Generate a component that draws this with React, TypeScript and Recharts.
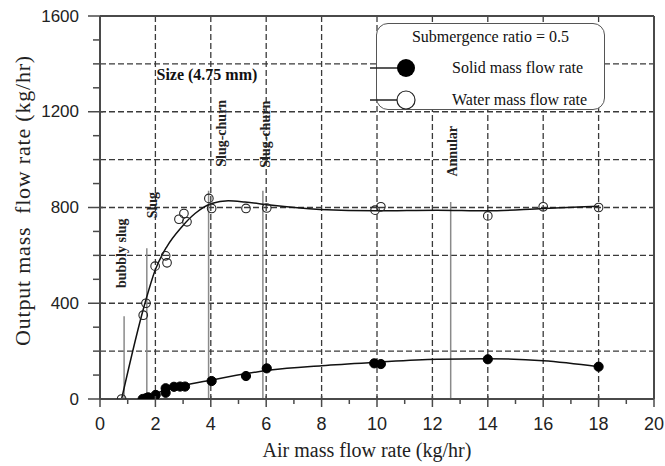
import React from 'react';
import {
  ComposedChart,
  Line,
  Scatter,
  XAxis,
  YAxis,
  CartesianGrid,
  ReferenceLine,
  ReferenceDot,
  Legend,
} from 'recharts';

// ---- data ----
const waterX = [0.78, 1.56, 1.66, 1.99, 2.37, 2.42, 2.85, 3.03, 3.14, 3.93, 4.03, 5.27, 6.02, 9.93, 10.14, 14.0, 16.0, 18.0];
const waterY = [0, 350, 400, 555, 598, 569, 751, 775, 740, 838, 796, 796, 798, 789, 803, 765, 803, 800];

const solidX = [1.54, 1.65, 1.74, 2.01, 2.37, 2.37, 2.67, 2.89, 3.07, 4.03, 5.27, 6.02, 9.9, 10.14, 14.0, 18.0];
const solidY = [0, 3, 7, 17, 26, 45, 51, 52, 52, 75, 96, 128, 149, 146, 166, 135];

const waterFitX = [0.78, 1.62, 1.99, 2.41, 2.95, 3.43, 4.03, 4.63, 5.23, 6.14, 7.94, 9.99, 12.16, 13.96, 16.0, 18.0];
const waterFitY = [0, 399, 538, 636, 719, 775, 817, 828, 823, 810, 792, 786, 789, 786, 796, 805];

const solidFitX = [1.5, 2.37, 4.03, 6.14, 8.0, 9.8, 12.16, 13.96, 16.0, 18.0];
const solidFitY = [0, 38, 79, 121, 139, 152, 166, 168, 160, 135];

const xTicks = [0, 1, 2, 3, 4, 5, 6, 7, 8, 9, 10, 11, 12, 13, 14, 15, 16, 17, 18, 19, 20];
const yTicks = [0, 100, 200, 300, 400, 500, 600, 700, 800, 900, 1000, 1100, 1200, 1300, 1400, 1500, 1600];
const xGrid = [2, 4, 6, 8, 10, 12, 14, 16, 18];
const yGrid = [200, 400, 600, 800, 1000, 1200, 1400];

// regime boundary lines: x position, top value
const regimeLineX = [0.87, 1.69, 3.92, 5.88, 12.66];
const regimeLineTop = [346, 630, 870, 870, 823];

// regime labels (vertical text) anchored in data coordinates
const regimeLabels = ['bubbly slug', 'Slug', 'Slug-churn', 'Slug-churn', 'Annular'];
const regimeLabelX = [0.76, 1.88, 4.4, 5.96, 12.71];
const regimeLabelY = [609, 810, 1110, 1106, 1035];

const sizeLabel = 'Size (4.75 mm)';
const sizeLabelX = 3.86;
const sizeLabelY = 1356;

const legendTitle = 'Submergence ratio = 0.5';
const seriesNames = ['Solid mass flow rate', 'Water mass flow rate'];

const waterData = waterX.map((x, i) => ({ x, y: waterY[i] }));
const solidData = solidX.map((x, i) => ({ x, y: solidY[i] }));
const waterFit = waterFitX.map((x, i) => ({ x, y: waterFitY[i] }));
const solidFit = solidFitX.map((x, i) => ({ x, y: solidFitY[i] }));

const SERIF = "'Liberation Serif', 'Times New Roman', serif";
const SANS = "'Liberation Sans', Arial, sans-serif";
const AXIS = '#4a4a4a';

const XTick = (props: any) => {
  const { x, y, payload } = props;
  const v = payload.value;
  const major = v % 2 === 0;
  return (
    <g>
      <line x1={x} x2={x} y1={major ? y - 3 : y} y2={major ? y + 8 : y + 5} stroke={AXIS} strokeWidth={1.5} />
      {major && (
        <text x={x} y={y + 25} textAnchor="middle" dominantBaseline="central" fontFamily={SANS} fontSize={18} fill="#222">
          {v}
        </text>
      )}
    </g>
  );
};

const YTick = (props: any) => {
  const { x, y, payload } = props;
  const v = payload.value;
  const major = v % 400 === 0;
  return (
    <g>
      <line x1={major ? x - 12 : x - 7} x2={major ? x + 3 : x} y1={y} y2={y} stroke={AXIS} strokeWidth={1.5} />
      {major && (
        <text x={x - 21} y={y} textAnchor="end" dominantBaseline="central" fontFamily={SANS} fontSize={17} fill="#222">
          {v}
        </text>
      )}
    </g>
  );
};

const YLabel = (props: any) => {
  const vb = props.viewBox || { x: 0, y: 16, width: 100, height: 383 };
  const cx = vb.x + 22;
  const cy = vb.y + vb.height / 2 - 7;
  return (
    <text
      x={cx}
      y={cy}
      transform={`rotate(-90 ${cx} ${cy})`}
      textAnchor="middle"
      dominantBaseline="central"
      fontFamily={SERIF}
      fontSize={22}
      letterSpacing={0.8}
      fill="#222"
      style={{ whiteSpace: 'pre' }}
    >
      {'Output mass  flow rate (kg/hr)'}
    </text>
  );
};

const XLabel = (props: any) => {
  const vb = props.viewBox || { x: 100, y: 399, width: 554, height: 67 };
  const cx = vb.x + vb.width / 2 - 10;
  const cy = vb.y + 51;
  return (
    <text x={cx} y={cy} textAnchor="middle" dominantBaseline="central" fontFamily={SERIF} fontSize={20} fill="#222">
      Air mass flow rate (kg/hr)
    </text>
  );
};

const makeVerticalText = (label: string) => (p: any) => (
  <text
    x={p.cx}
    y={p.cy}
    transform={`rotate(-90 ${p.cx} ${p.cy})`}
    textAnchor="middle"
    dominantBaseline="central"
    fontFamily={SERIF}
    fontWeight="bold"
    fontSize={14}
    fill="#222"
  >
    {label}
  </text>
);

const SizeText = (p: any) => (
  <text x={p.cx} y={p.cy} textAnchor="middle" dominantBaseline="central" fontFamily={SERIF} fontWeight="bold" fontSize={16} fill="#111">
    {sizeLabel}
  </text>
);

const SolidDot = (p: any) => <circle cx={p.cx} cy={p.cy} r={4.6} fill="#000" stroke="#000" />;
const OpenDot = (p: any) => <circle cx={p.cx} cy={p.cy} r={4.3} fill="none" stroke="#222" strokeWidth={1.1} />;

const LegendBox = () => (
  <div
    style={{
      boxSizing: 'border-box',
      width: 229,
      height: 87,
      border: '1.5px solid #555',
      borderRadius: 12,
      background: '#fff',
      fontFamily: SERIF,
      fontSize: 16,
      color: '#111',
      position: 'relative',
      lineHeight: '18px',
    }}
  >
    <div style={{ position: 'absolute', top: 4, left: 0, right: 0, textAlign: 'center' }}>{legendTitle}</div>
    {seriesNames.map((name, i) => {
      const cy = i === 0 ? 44 : 76;
      return (
        <div key={name}>
          <svg width={50} height={24} style={{ position: 'absolute', left: -7, top: cy - 12, overflow: 'visible' }}>
            <line x1={0} x2={36} y1={12} y2={12} stroke="#222" strokeWidth={1.3} />
            {i === 0 ? (
              <circle cx={36} cy={12} r={9} fill="#000" />
            ) : (
              <circle cx={36} cy={12} r={9} fill="#fff" stroke="#222" strokeWidth={1.2} />
            )}
          </svg>
          <div style={{ position: 'absolute', left: 75, top: cy - 9, whiteSpace: 'nowrap' }}>{name}</div>
        </div>
      );
    })}
  </div>
);

export default function App() {
  return (
    <div style={{ position: 'absolute', left: 0, top: 0, width: 665, height: 466, background: '#fff' }}>
      <ComposedChart width={665} height={466} margin={{ top: 16, right: 11, left: 0, bottom: 0 }}>
        <CartesianGrid
          stroke="#3a3a3a"
          strokeWidth={1.3}
          strokeDasharray="6 3"
          horizontalValues={yGrid}
          verticalValues={xGrid}
        />
        <XAxis
          type="number"
          dataKey="x"
          domain={[0, 20]}
          ticks={xTicks}
          interval={0}
          height={67}
          tickSize={0}
          tickMargin={0}
          tickLine={false}
          axisLine={{ stroke: AXIS, strokeWidth: 2 }}
          tick={<XTick />}
          label={<XLabel />}
          allowDataOverflow
        />
        <YAxis
          type="number"
          dataKey="y"
          domain={[0, 1600]}
          ticks={yTicks}
          interval={0}
          width={100}
          tickSize={0}
          tickMargin={0}
          tickLine={false}
          axisLine={{ stroke: AXIS, strokeWidth: 2 }}
          tick={<YTick />}
          label={<YLabel />}
          allowDataOverflow
        />
        <ReferenceLine y={1600} stroke={AXIS} strokeWidth={2} />
        <ReferenceLine x={20} stroke={AXIS} strokeWidth={2} />
        {regimeLineX.map((x, i) => (
          <ReferenceLine
            key={'rl' + i}
            segment={[
              { x, y: 0 },
              { x, y: regimeLineTop[i] },
            ]}
            stroke="#8a8a8a"
            strokeWidth={1.5}
          />
        ))}
        {regimeLabels.map((lab, i) => (
          <ReferenceDot
            key={'lab' + i}
            x={regimeLabelX[i]}
            y={regimeLabelY[i]}
            r={0}
            ifOverflow="visible"
            shape={makeVerticalText(lab)}
          />
        ))}
        <ReferenceDot x={sizeLabelX} y={sizeLabelY} r={0} ifOverflow="visible" shape={SizeText} />
        <Line
          data={waterFit}
          dataKey="y"
          type="monotone"
          stroke="#111"
          strokeWidth={1.5}
          dot={false}
          activeDot={false}
          isAnimationActive={false}
          legendType="none"
        />
        <Line
          data={solidFit}
          dataKey="y"
          type="monotone"
          stroke="#111"
          strokeWidth={1.5}
          dot={false}
          activeDot={false}
          isAnimationActive={false}
          legendType="none"
        />
        <Scatter name={seriesNames[1]} data={waterData} dataKey="y" shape={OpenDot} isAnimationActive={false} />
        <Scatter name={seriesNames[0]} data={solidData} dataKey="y" shape={SolidDot} isAnimationActive={false} />
        <Legend
          layout="vertical"
          align="center"
          verticalAlign="middle"
          wrapperStyle={{ position: 'absolute', left: 376, top: 23, width: 229, height: 87 }}
          content={() => <LegendBox />}
        />
      </ComposedChart>
    </div>
  );
}
